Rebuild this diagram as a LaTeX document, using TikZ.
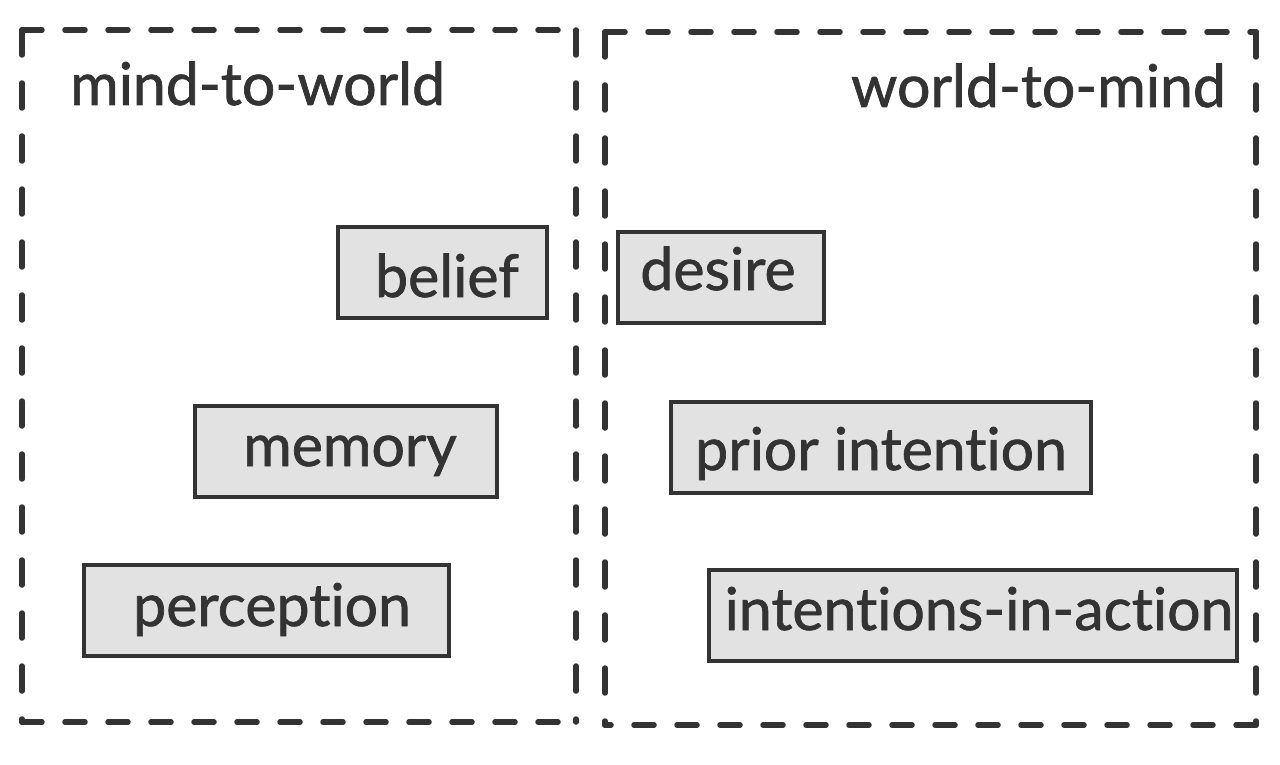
\documentclass[tikz,border=0pt]{standalone}
\usepackage{fontspec}
\setmainfont{Lato}[Ligatures={NoCommon},FakeBold=1.2]
\definecolor{ink}{HTML}{333333}
\definecolor{boxfill}{HTML}{E2E2E2}
\begin{document}
\begin{tikzpicture}[x=1pt,y=-1pt,
  hdash/.style={draw=ink,line width=5.5pt,dash pattern=on 20pt off 23pt,line cap=round},
  vdash/.style={draw=ink,line width=5.5pt,dash pattern=on 25pt off 28pt,line cap=round},
  item/.style={draw=ink,fill=boxfill,line width=4.5pt,inner sep=0pt},
  lbl/.style={text=ink,inner sep=0pt,font=\fontsize{59}{60}\selectfont},
  title/.style={text=ink,inner sep=0pt,font=\fontsize{59}{60}\selectfont}]
\useasboundingbox (0,0) rectangle (1280,765);
\fill[white] (0,0) rectangle (1280,765);
% left region
\coordinate (ltl) at (22,30); \coordinate (ltr) at (576,30);
\coordinate (lbl) at (22,722); \coordinate (lbr) at (576,722);
\draw[hdash] (ltl) -- (ltr);
\draw[hdash] (lbl) -- (lbr);
\draw[vdash] (ltl) -- (lbl);
\draw[vdash] (ltr) -- (lbr);
% right region
\coordinate (rtl) at (605,32); \coordinate (rtr) at (1256,32);
\coordinate (rbl) at (605,725); \coordinate (rbr) at (1256,725);
\draw[hdash] (rtl) -- (rtr);
\draw[hdash] (rbr) -- (rbl);
\draw[vdash] (rtl) -- (rbl);
\draw[vdash] (rtr) -- (rbr);
\node[title,anchor=base west] (t1) at (70,105) {mind-to-world};
\node[title,anchor=base east] (t2) at (1226,107) {world-to-mind};
\node[item,minimum width=209pt,minimum height=91pt] (belief) at (442.5,272.5) {};
\node[lbl,anchor=base] (beliefl) at (447,297) {belief};
\node[item,minimum width=206pt,minimum height=91pt] (desire) at (721,277.5) {};
\node[lbl,anchor=base] (desirel) at (718,290) {desire};
\node[item,minimum width=302pt,minimum height=91pt] (memory) at (346,451.5) {};
\node[lbl,anchor=base] (memoryl) at (350,466) {memory};
\node[item,minimum width=420pt,minimum height=91pt] (prior) at (881,447.5) {};
\node[lbl,anchor=base] (priorl) at (881,470) {prior intention};
\node[item,minimum width=365pt,minimum height=91pt] (perc) at (266.5,610.5) {};
\node[lbl,anchor=base] (percl) at (272,626) {perception};
\node[item,minimum width=528pt,minimum height=91pt] (iia) at (973,615.5) {};
\node[lbl,anchor=base] (iial) at (979,630) {intentions-in-action};
\end{tikzpicture}
\end{document}
